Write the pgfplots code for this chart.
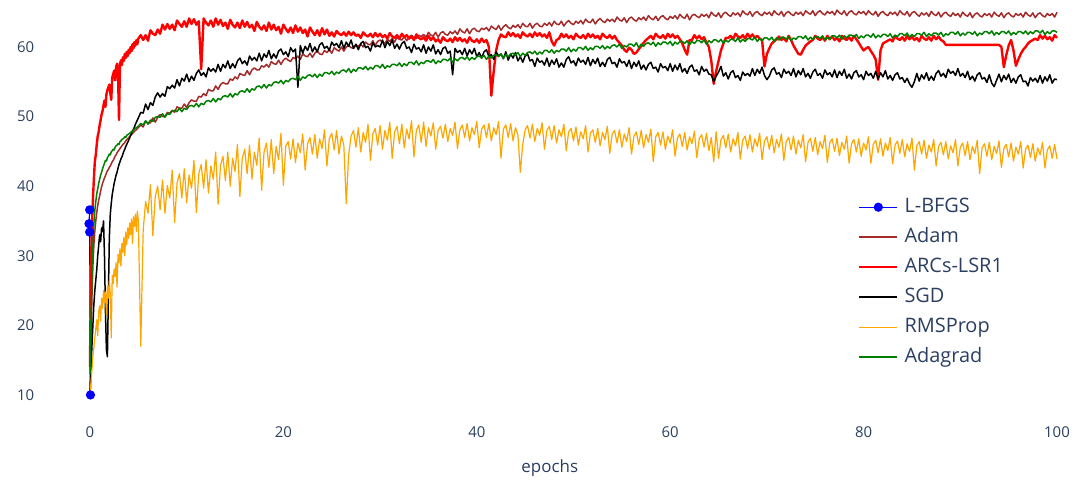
\documentclass[border=0pt]{standalone}
\usepackage{fontspec}
\setmainfont{Open Sans}
\usepackage{pgfplots}
\usepackage{pgfplotstable}
\pgfplotsset{compat=1.18}
\definecolor{txt}{HTML}{2A3F5F}
\definecolor{adam}{HTML}{A52A2A}
\definecolor{rms}{HTML}{FFA500}
\definecolor{ada}{HTML}{008000}

\pgfplotstableread{
x a r s o g
0.0 10.0 14.0 10.0 10.0 13.0
0.1 17.5 28.0 13.5 11.8 20.5
0.2 24.0 34.5 17.0 13.6 27.0
0.3 28.5 38.0 20.0 15.5 31.5
0.4 31.5 41.0 23.0 16.8 34.5
0.5 33.5 43.5 25.0 18.2 36.5
0.6 35.0 44.5 26.5 19.5 37.8
0.7 36.2 46.0 28.0 20.8 38.9
0.8 37.2 47.2 30.0 18.5 39.6
0.9 38.0 47.8 31.5 22.0 40.4
1.0 38.6 48.8 33.0 22.8 41.0
1.1 39.3 49.5 32.0 20.6 41.6
1.2 39.9 50.3 34.0 23.9 42.0
1.3 40.4 50.8 33.5 22.4 42.5
1.4 40.8 51.6 35.0 25.0 42.9
1.5 41.2 52.3 30.0 23.2 43.3
1.6 41.5 51.4 22.0 24.8 43.7
1.7 41.9 53.2 16.5 21.5 43.6
1.8 42.2 53.8 15.5 25.6 44.1
1.9 42.4 54.2 24.0 23.9 44.3
2.0 42.7 54.6 32.5 26.4 44.6
2.1 42.9 53.4 36.0 24.5 44.5
2.2 43.2 52.4 37.5 18.2 44.9
2.3 43.5 55.6 38.8 27.2 45.1
2.4 43.7 56.1 39.6 26.0 45.3
2.5 44.0 56.6 40.4 28.1 45.2
2.6 44.3 55.2 41.0 27.0 45.6
2.7 44.5 57.1 41.6 29.0 45.8
2.8 44.8 57.6 42.0 25.5 45.9
2.9 45.0 56.3 42.6 30.2 46.1
3.0 45.2 49.5 43.1 29.0 46.0
3.1 45.4 57.5 43.5 31.0 46.4
3.2 45.6 58.1 43.9 28.5 46.5
3.3 45.8 57.4 44.2 31.8 46.7
3.4 46.0 58.5 44.6 30.5 46.8
3.5 46.1 58.0 45.0 32.6 46.9
3.6 46.3 59.0 45.3 30.0 47.1
3.7 46.5 58.4 45.7 33.4 47.0
3.8 46.7 59.3 46.0 31.6 47.3
3.9 46.8 58.7 46.3 34.0 47.4
4.0 47.0 59.6 46.6 32.5 47.5
4.1 47.1 59.1 46.9 34.7 47.6
4.2 47.3 60.0 47.3 33.0 47.7
4.3 47.4 59.4 47.6 35.3 47.9
4.4 47.6 60.4 47.9 31.8 47.8
4.5 47.7 59.8 48.2 35.6 48.1
4.6 47.9 60.7 48.5 34.2 48.2
4.7 48.0 60.2 48.9 36.0 48.3
4.8 48.1 61.0 49.2 33.5 48.4
4.9 48.3 60.4 49.5 36.4 48.5
5.0 48.4 61.2 49.8 35.0 48.6
5.25 48.8 61.7 50.6 17.0 49.0
5.5 48.5 61.0 50.5 33.6 48.8
5.75 49.3 61.7 51.8 37.8 49.4
6.0 49.1 60.9 51.0 36.1 48.9
6.25 49.1 62.4 52.0 40.2 49.5
6.5 49.8 61.9 51.6 32.9 49.3
6.75 49.2 61.7 52.8 38.5 49.9
7.0 49.9 62.5 53.4 40.0 50.0
7.25 50.3 61.9 52.8 36.6 49.9
7.5 50.0 63.2 53.3 40.9 50.4
7.75 50.0 62.5 52.9 36.1 49.9
8.0 50.6 63.3 54.3 40.1 50.4
8.25 50.5 62.6 54.0 38.3 50.3
8.5 50.9 63.2 54.5 42.3 50.8
8.75 50.6 62.4 54.1 34.8 50.9
9.0 51.4 63.8 55.3 40.4 50.7
9.25 51.2 63.3 54.4 41.8 51.2
9.5 51.2 62.9 55.5 38.3 50.7
9.75 51.8 63.7 55.1 42.5 51.2
10.0 51.3 62.9 56.1 37.6 51.0
10.25 52.0 64.1 55.0 41.6 51.5
10.5 52.4 63.3 55.8 39.7 51.6
10.75 52.2 64.0 55.2 43.7 51.4
11.0 52.2 63.2 56.2 36.2 51.9
11.25 52.9 63.7 56.7 41.8 51.4
11.5 52.8 56.8 55.9 43.1 51.9
11.75 53.3 64.1 56.3 39.7 51.7
12.0 53.0 63.5 55.7 43.8 52.2
12.25 53.9 63.1 57.0 39.0 52.3
12.5 53.7 63.8 56.5 42.9 52.1
12.75 53.7 62.9 56.9 41.0 52.6
13.0 54.4 64.1 56.4 44.9 52.1
13.25 53.9 63.2 57.5 37.4 52.6
13.5 54.6 63.9 56.5 43.0 52.4
13.75 54.9 63.0 57.5 44.3 52.9
14.0 54.7 63.5 57.0 40.8 53.0
14.25 54.7 62.6 58.0 44.9 52.8
14.5 55.4 63.9 56.9 40.0 53.3
14.75 55.2 63.2 57.6 44.0 52.8
15.0 55.7 62.8 57.0 42.1 53.3
15.25 55.4 63.5 58.0 46.0 53.1
15.5 56.2 62.7 58.4 38.5 53.6
15.75 56.0 63.8 57.6 44.0 53.7
16.0 55.9 62.9 58.0 45.3 53.5
16.25 56.6 63.6 57.4 41.8 54.0
16.5 56.0 62.8 58.7 45.9 53.5
16.75 56.7 63.2 58.1 41.0 54.0
17.0 57.0 62.3 58.5 44.9 53.8
17.25 56.7 63.6 58.0 43.0 54.3
17.5 56.7 62.9 59.1 46.9 54.4
17.75 57.3 62.5 58.0 39.4 54.1
18.0 57.1 63.1 59.0 44.9 54.6
18.25 57.5 62.3 58.5 46.2 54.1
18.5 57.1 63.5 59.5 42.7 54.6
18.75 57.9 62.5 58.3 46.7 54.4
19.0 57.6 63.2 59.0 41.8 54.9
19.25 57.5 62.4 58.4 45.7 55.0
19.5 58.1 62.9 59.4 43.8 54.8
19.75 57.5 61.9 59.7 47.6 55.2
20.0 58.1 63.2 58.9 40.1 54.7
20.25 58.4 62.6 59.3 45.8 55.2
20.5 58.1 62.1 58.6 46.4 55.0
20.75 57.9 62.8 59.9 43.9 55.4
21.0 58.5 62.0 59.3 46.8 55.5
21.25 58.3 63.1 59.7 43.4 55.3
21.5 58.7 62.2 54.2 46.2 55.8
21.75 58.2 62.8 60.2 44.8 55.2
22.0 59.0 62.0 59.1 47.5 55.7
22.25 58.7 62.5 60.1 42.3 55.5
22.5 58.6 61.5 59.5 46.1 55.9
22.75 59.1 62.8 60.5 47.0 56.0
23.0 58.5 62.2 59.3 44.6 55.7
23.25 59.1 61.7 60.0 47.4 56.1
23.5 59.4 62.4 59.3 44.0 55.6
23.75 59.0 61.6 60.3 46.8 56.1
24.0 58.9 62.7 60.6 45.4 55.8
24.25 59.5 61.8 59.8 48.1 56.3
24.5 59.2 62.5 60.1 42.9 56.3
24.75 59.6 61.6 59.5 46.8 56.1
25.0 59.1 62.1 60.7 47.6 56.5
25.25 59.9 61.5 60.2 45.2 56.0
25.5 59.6 62.3 60.5 48.0 56.4
25.75 59.4 61.9 59.9 44.6 56.2
26.0 60.0 61.7 60.9 47.2 56.6
26.25 59.4 62.1 59.8 45.9 56.7
26.5 60.0 61.6 60.7 37.5 56.4
26.75 60.2 62.2 60.1 44.5 56.9
27.0 59.9 61.7 61.0 47.2 56.3
27.25 59.8 62.1 59.8 48.0 56.8
27.5 60.3 61.6 60.4 45.6 56.5
27.75 60.1 61.8 59.6 48.4 57.0
28.0 60.4 61.3 60.5 44.9 57.0
28.25 60.0 62.1 60.8 47.7 56.8
28.5 60.7 61.7 59.9 46.3 57.2
28.75 60.4 61.5 60.1 48.9 56.7
29.0 60.3 61.9 59.4 43.7 57.1
29.25 60.9 61.4 60.6 47.5 56.8
29.5 60.2 62.0 60.0 48.3 57.3
29.75 60.8 61.5 60.2 45.9 57.3
30.0 61.0 61.9 60.0 48.7 57.0
30.25 60.7 61.4 61.0 45.3 57.5
30.5 60.5 61.7 59.9 48.0 56.9
30.75 61.1 61.2 60.8 46.6 57.3
31.0 60.8 62.0 60.2 49.2 57.1
31.25 61.2 61.5 61.0 44.0 57.5
31.5 60.7 61.3 59.8 47.8 57.5
31.75 61.4 61.7 60.4 48.6 57.3
32.0 61.1 61.2 59.7 46.1 57.7
32.25 61.0 61.9 60.5 48.9 57.2
32.5 61.5 61.4 60.8 45.5 57.6
32.75 60.9 61.7 59.8 48.2 57.3
33.0 61.4 61.2 60.0 46.8 57.8
33.25 61.7 61.5 59.2 49.4 57.8
33.5 61.3 61.0 60.4 44.2 57.5
33.75 61.2 61.8 59.7 48.0 58.0
34.0 61.7 61.3 59.9 48.8 57.4
34.25 61.5 61.1 59.3 46.3 57.8
34.5 61.8 61.4 60.3 49.2 57.6
34.75 61.4 60.9 59.1 45.7 58.0
35.0 62.1 61.6 60.0 48.4 58.0
35.25 61.7 61.0 59.4 47.2 57.8
35.5 61.6 61.4 60.3 49.1 58.2
35.75 62.1 60.8 59.0 45.3 57.6
36.0 61.4 61.1 59.6 48.0 58.0
36.25 62.0 60.6 58.9 48.6 57.8
36.5 62.2 61.4 59.8 46.9 58.2
36.75 61.8 61.0 60.0 48.9 58.2
37.0 61.7 60.8 59.1 46.4 58.0
37.25 62.2 61.2 59.4 48.3 58.4
37.5 61.9 60.7 56.0 47.3 57.8
37.75 62.3 61.4 59.8 49.2 58.3
38.0 61.8 60.9 59.2 45.4 58.0
38.25 62.6 61.3 59.5 48.1 58.4
38.5 62.2 60.8 58.9 48.8 58.5
38.75 62.0 61.1 59.8 47.0 58.2
39.0 62.6 60.6 58.7 49.0 58.6
39.25 61.9 61.4 59.6 46.5 58.1
39.5 62.5 60.9 59.0 48.4 58.5
39.75 62.7 60.7 59.8 47.4 58.2
40.0 62.3 61.1 58.6 49.3 58.6
40.25 62.2 60.6 59.2 45.5 58.7
40.5 62.7 61.2 58.4 48.2 58.4
40.75 62.5 60.7 59.3 48.8 58.8
41.0 62.8 61.0 59.6 47.0 58.2
41.25 62.3 60.0 58.6 49.0 58.7
41.5 63.0 53.0 58.9 46.5 58.4
41.75 62.7 56.5 58.2 48.4 58.8
42.0 62.5 59.5 59.3 47.4 58.9
42.25 63.1 61.0 58.7 49.3 58.6
42.5 62.4 61.8 59.0 44.0 59.0
42.75 62.9 61.5 58.3 48.2 58.4
43.0 63.2 61.4 59.3 48.8 58.9
43.25 62.8 62.1 58.1 47.0 58.6
43.5 62.6 61.6 59.0 49.0 59.0
43.75 63.1 62.0 58.4 46.5 59.1
44.0 62.8 61.5 59.2 48.4 58.8
44.25 63.2 61.8 58.0 47.4 59.2
44.5 62.7 61.3 58.6 42.0 58.6
44.75 63.4 62.1 57.8 46.0 59.1
45.0 63.0 61.7 58.7 48.1 58.8
45.25 62.9 61.5 59.0 48.7 59.2
45.5 63.4 61.9 58.0 46.9 59.3
45.75 62.7 61.4 58.2 48.9 59.0
46.0 63.2 62.1 57.2 46.4 59.4
46.25 63.4 61.6 58.4 48.3 58.9
46.5 63.0 62.0 57.8 47.3 59.3
46.75 62.9 61.5 58.0 49.1 59.0
47.0 63.4 61.8 57.4 45.3 59.5
47.25 63.1 61.3 58.4 48.0 59.5
47.5 63.5 62.1 57.2 48.6 59.2
47.75 63.0 60.8 58.1 46.7 59.6
48.0 63.7 60.2 57.5 48.7 59.1
48.25 63.3 61.0 58.3 46.2 59.5
48.5 63.2 61.2 57.1 48.1 59.3
48.75 63.7 61.9 57.7 47.1 59.7
49.0 63.0 61.4 57.1 48.9 59.7
49.25 63.5 61.8 58.2 45.1 59.4
49.5 63.8 61.3 58.6 47.8 59.9
49.75 63.4 61.6 57.7 48.3 59.3
50.0 63.2 61.1 58.0 46.5 59.7
50.25 63.7 61.9 57.3 48.5 59.4
50.5 63.4 61.5 58.4 45.9 59.9
50.75 63.8 61.3 57.8 47.8 59.9
51.0 63.3 61.7 58.1 46.8 59.6
51.25 64.0 61.2 57.5 48.7 60.1
51.5 63.6 61.9 58.5 44.9 59.5
51.75 63.5 61.4 57.3 47.6 59.9
52.0 64.0 61.8 58.2 48.1 59.6
52.25 63.3 61.3 57.6 46.3 60.1
52.5 63.8 61.6 58.4 48.3 60.1
52.75 64.1 61.1 57.2 45.8 59.8
53.0 63.7 61.9 57.8 47.7 60.2
53.25 63.5 61.5 57.2 46.7 59.7
53.5 64.0 61.3 58.2 48.6 60.1
53.75 63.7 61.7 58.5 44.7 59.8
54.0 64.0 61.2 57.6 47.5 60.2
54.25 63.6 61.6 57.8 48.0 60.3
54.5 64.3 61.0 57.1 46.2 60.0
54.75 63.9 60.6 58.3 48.1 60.4
55.0 63.7 60.2 57.7 45.6 59.8
55.25 64.2 59.6 57.9 47.5 60.2
55.5 63.5 59.3 57.2 46.4 60.0
55.75 64.1 59.9 58.1 48.4 60.4
56.0 64.3 59.6 56.9 44.6 60.4
56.25 63.9 59.0 57.8 47.2 60.1
56.5 63.7 59.2 57.2 47.8 60.6
56.75 64.2 59.7 58.0 46.0 59.9
57.0 63.9 60.1 56.8 48.0 60.4
57.25 64.3 60.6 57.4 45.5 60.1
57.5 63.8 61.0 56.7 47.4 60.5
57.75 64.5 61.3 57.5 46.3 60.6
58.0 64.1 61.6 57.8 48.2 60.3
58.25 63.9 61.1 56.9 43.5 60.7
58.5 64.4 61.9 57.1 47.1 60.1
58.75 63.8 61.5 56.4 47.7 60.6
59.0 64.3 61.3 57.6 45.9 60.3
59.25 64.5 61.7 57.0 47.8 60.7
59.5 64.1 61.2 57.2 45.3 60.7
59.75 63.9 61.9 56.6 47.2 60.4
60.0 64.4 61.4 57.6 46.2 60.8
60.25 64.1 61.8 56.5 48.1 60.2
60.5 64.5 61.3 57.4 44.3 60.7
60.75 64.0 61.6 56.7 46.9 60.4
61.0 64.7 61.1 57.6 47.5 60.8
61.25 64.3 60.5 56.4 45.7 60.8
61.5 64.1 59.6 56.9 47.7 60.5
61.75 64.7 58.9 56.2 45.2 60.9
62.0 63.9 61.0 57.1 47.1 60.3
62.25 64.5 61.0 57.4 46.1 60.8
62.5 64.7 61.7 56.5 47.9 60.5
62.75 64.4 61.2 56.7 44.1 60.9
63.0 64.2 61.6 56.0 46.8 60.9
63.25 64.7 61.1 57.2 47.4 60.6
63.5 64.4 61.4 56.5 45.6 61.0
63.75 64.7 60.6 56.8 47.6 60.4
64.0 64.2 60.0 56.1 45.1 60.9
64.25 65.0 58.0 56.0 47.0 60.6
64.5 64.6 54.7 55.0 43.5 61.0
64.75 64.4 56.5 55.8 47.8 61.0
65.0 64.9 58.0 56.4 44.0 60.7
65.25 64.2 59.5 57.2 46.7 61.1
65.5 64.8 60.5 55.8 47.3 60.5
65.75 65.0 61.3 56.3 45.5 61.0
66.0 64.6 61.3 55.4 47.5 60.7
66.25 64.4 61.6 56.3 44.9 61.1
66.5 64.9 61.1 56.6 46.8 61.1
66.75 64.6 61.9 55.6 45.8 60.8
67.0 64.9 61.5 55.9 47.7 61.3
67.25 64.4 61.3 55.2 43.9 60.7
67.5 65.2 61.7 56.4 46.6 61.1
67.75 64.8 61.2 55.9 47.2 60.8
68.0 64.6 61.9 56.2 45.4 61.2
68.25 65.1 61.4 55.8 47.4 61.2
68.5 64.4 61.8 56.9 44.9 61.0
68.75 64.9 61.3 55.9 46.8 61.4
69.0 65.1 61.6 56.8 45.7 60.8
69.25 64.7 61.2 56.2 47.6 61.2
69.5 64.5 61.0 57.1 43.8 60.9
69.75 65.0 57.2 55.9 46.5 61.3
70.0 64.7 59.0 55.3 47.1 61.3
70.25 65.0 59.8 55.8 45.3 61.0
70.5 64.5 60.5 56.7 47.3 61.4
70.75 65.2 60.8 57.0 44.8 60.8
71.0 64.8 61.1 56.1 46.7 61.3
71.25 64.6 61.5 56.3 45.6 61.0
71.5 65.1 61.0 55.6 47.5 61.4
71.75 64.4 61.3 56.8 43.7 61.4
72.0 64.9 60.8 56.2 46.4 61.1
72.25 65.1 61.6 56.5 47.0 61.5
72.5 64.7 61.0 55.9 45.2 60.9
72.75 64.5 60.2 56.9 47.2 61.3
73.0 65.0 59.6 55.7 44.6 61.1
73.25 64.7 59.0 56.6 46.6 61.5
73.5 65.0 58.9 56.0 45.5 61.5
73.75 64.5 59.6 56.9 47.4 61.2
74.0 65.2 60.2 55.7 43.5 61.6
74.25 64.9 60.5 56.2 46.3 61.0
74.5 64.7 60.8 55.5 46.9 61.4
74.75 65.2 61.0 56.4 45.0 61.1
75.0 64.5 61.6 56.8 47.0 61.5
75.25 65.0 61.2 55.9 44.5 61.5
75.5 65.2 61.0 56.2 46.4 61.2
75.75 64.8 61.4 55.5 45.4 61.6
76.0 64.6 60.9 56.7 47.3 61.0
76.25 65.1 61.6 56.0 43.4 61.4
76.5 64.8 61.1 56.3 46.2 61.1
76.75 65.1 61.5 55.7 46.8 61.6
77.0 64.6 61.0 56.7 45.0 61.6
77.25 65.3 61.3 55.6 46.9 61.3
77.5 64.9 60.8 56.5 44.4 61.7
77.75 64.7 61.6 55.9 46.3 61.1
78.0 65.2 61.2 56.8 45.3 61.6
78.25 64.5 61.0 55.5 47.2 61.3
78.5 65.0 61.4 56.1 43.3 61.7
78.75 65.2 60.9 55.4 46.1 61.7
79.0 64.8 61.6 56.3 46.7 61.4
79.25 64.6 61.1 56.6 44.9 61.8
79.5 65.1 60.6 55.7 46.8 61.2
79.75 64.8 60.0 56.0 44.3 61.6
80.0 65.1 59.5 55.3 46.2 61.3
80.25 64.6 59.8 56.5 45.2 61.7
80.5 65.2 60.0 55.9 47.1 61.7
80.75 64.8 59.4 56.2 43.3 61.4
81.0 64.6 58.9 55.5 46.0 61.9
81.25 65.1 58.2 56.5 46.6 61.3
81.5 64.4 55.3 55.4 44.8 61.7
81.75 64.9 59.5 56.3 46.8 61.4
82.0 65.1 60.5 55.7 44.3 61.8
82.25 64.7 60.7 56.6 46.2 61.8
82.5 64.5 60.9 55.4 45.1 61.5
82.75 65.0 61.1 55.9 47.0 61.9
83.0 64.7 60.8 55.2 43.2 61.3
83.25 65.0 61.6 56.0 45.9 61.7
83.5 64.5 61.2 56.3 46.5 61.5
83.75 65.2 61.0 55.4 44.7 61.9
84.0 64.8 61.4 55.6 46.7 61.9
84.25 64.6 60.9 54.9 44.2 61.6
84.5 65.1 61.6 55.5 46.1 62.0
84.75 64.4 61.1 54.7 45.0 61.4
85.0 64.9 61.5 54.2 46.9 61.8
85.25 65.1 61.0 55.0 42.3 61.5
85.5 64.7 61.3 56.2 45.8 61.9
85.75 64.4 60.8 55.1 46.4 61.9
86.0 64.9 61.6 56.0 44.6 61.7
86.25 64.6 61.2 55.4 46.6 62.1
86.5 64.9 61.0 56.3 44.0 61.5
86.75 64.4 61.4 55.2 45.9 61.9
87.0 65.1 60.9 55.8 44.9 61.6
87.25 64.7 61.6 55.2 46.7 62.0
87.5 64.5 61.1 56.2 42.9 62.0
87.75 65.0 61.5 56.6 45.7 61.7
88.0 64.3 61.0 55.8 46.3 62.1
88.25 64.8 60.8 56.2 44.5 61.5
88.5 65.0 60.3 55.6 46.4 61.9
88.75 64.6 60.3 56.8 43.9 61.7
89.0 64.4 60.3 56.2 45.8 62.1
89.25 64.9 60.3 56.5 44.8 62.1
89.5 64.5 60.3 55.9 46.7 61.8
89.75 64.8 60.3 56.9 42.9 62.2
90.0 64.3 60.3 55.8 45.6 61.6
90.25 65.0 60.3 56.2 46.2 62.0
90.5 64.6 60.3 55.6 44.4 61.7
90.75 64.4 60.3 56.5 46.4 62.1
91.0 64.9 60.3 55.3 43.8 62.1
91.25 64.2 60.3 55.8 45.7 61.8
91.5 64.7 60.3 55.1 44.7 62.2
91.75 64.9 60.3 56.0 46.6 61.6
92.0 64.5 60.3 56.3 41.8 62.0
92.25 64.3 60.3 55.4 45.5 61.8
92.5 64.8 60.3 55.6 46.1 62.2
92.75 64.5 60.3 54.9 44.3 62.2
93.0 64.8 60.3 56.0 46.3 61.9
93.25 64.3 60.3 54.8 43.8 62.3
93.5 65.0 60.3 54.3 45.7 61.7
93.75 64.6 60.3 55.2 44.7 62.1
94.0 64.4 60.3 56.1 46.5 61.8
94.25 64.9 60.0 55.0 42.7 62.2
94.5 64.2 57.1 55.9 45.4 62.2
94.75 64.7 58.8 55.3 46.0 61.9
95.0 64.9 60.2 56.1 44.2 62.3
95.25 64.5 61.0 54.9 46.2 61.7
95.5 64.3 59.5 55.5 43.6 62.1
95.75 64.8 57.3 54.8 45.6 61.8
96.0 64.5 58.2 55.7 44.6 62.2
96.25 64.8 59.0 56.0 46.4 62.2
96.5 64.3 59.6 55.0 42.6 61.9
96.75 65.0 60.0 55.1 45.3 62.3
97.0 64.6 60.5 54.4 45.9 61.8
97.25 64.4 60.8 55.6 44.1 62.2
97.5 64.9 61.0 55.1 46.1 61.9
97.75 64.2 61.2 55.5 43.6 62.3
98.0 64.7 61.0 54.9 45.5 62.3
98.25 64.9 61.7 55.9 44.5 62.0
98.5 64.5 61.2 54.8 46.3 62.4
98.75 64.3 61.6 55.7 42.6 61.8
99.0 64.8 61.1 55.1 45.2 62.2
99.25 64.5 61.4 56.0 45.8 61.9
99.5 64.8 60.9 54.8 44.0 62.3
99.75 64.3 61.7 55.4 46.0 62.3
100.0 65.0 61.3 55.3 43.9 62.1
}\data

\pgfplotstableread{
x y
0.05 10.0
-0.03 33.4
-0.1 34.6
-0.03 36.6
}\lbfgs

\begin{document}
\begin{tikzpicture}
\begin{axis}[
  at={(0,0)}, anchor=south west,
  scale only axis, width=1020.2bp, height=417.6bp,
  xmin=-5.2, xmax=100.3, ymin=6, ymax=66,
  axis line style={draw=none},
  major tick length=0pt,
  xtick={0,20,...,100}, ytick={10,20,...,60},
  tick label style={font=\fontsize{15}{18}\selectfont, text=txt},
  yticklabel style={xshift=-2bp},
  /pgf/number format/assume math mode=true,
  xlabel={epochs},
  xlabel style={font=\fontsize{17}{20}\selectfont, text=txt, at={(axis description cs:0.5,0)}, anchor=center, yshift=-45bp},
  every axis plot/.append style={line join=round},
  legend image code/.code={\draw[mark repeat=2,mark phase=2,#1] plot coordinates {(0bp,0bp) (19bp,0bp) (38bp,0bp)};},
  legend style={at={(0.802,0.5407)}, anchor=north west, draw=none, fill=none,
    font=\fontsize{20}{24}\selectfont, text=txt, inner sep=0pt, row sep=10bp,
    nodes={inner sep=0pt, text height=15bp, text depth=5bp}},
  legend cell align=left,
]
\addplot[blue, line width=1.2bp, mark=*, mark size=4bp] table[x=x, y=y] {\lbfgs};
\addlegendentry{\hspace*{6bp}L-BFGS}
\addplot[adam, line width=1.5bp] table[x=x, y=a] {\data};
\addlegendentry{\hspace*{6bp}Adam}
\addplot[red, line width=2.4bp] table[x=x, y=r] {\data};
\addlegendentry{\hspace*{6bp}ARCs-LSR1}
\addplot[black, line width=1.5bp] table[x=x, y=s] {\data};
\addlegendentry{\hspace*{6bp}SGD}
\addplot[rms, line width=1.2bp] table[x=x, y=o] {\data};
\addlegendentry{\hspace*{6bp}RMSProp}
\addplot[ada, line width=1.5bp] table[x=x, y=g] {\data};
\addlegendentry{\hspace*{6bp}Adagrad}
\end{axis}
\path[use as bounding box] (-39.7bp,-60.2bp) rectangle (1037.3bp,422.8bp);
\end{tikzpicture}
\end{document}
